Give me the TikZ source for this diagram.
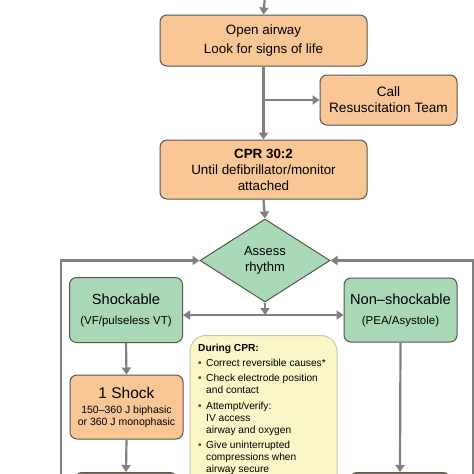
\documentclass[tikz,border=0pt]{standalone}
\usepackage{fontspec}
\setmainfont{Liberation Sans}
\usetikzlibrary{shapes.geometric,arrows.meta}
\definecolor{orfill}{HTML}{F9C795}
\definecolor{grfill}{HTML}{A8D8B6}
\definecolor{yefill}{HTML}{FAF6C8}
\definecolor{yeedge}{HTML}{C9C7A0}
\definecolor{brfill}{HTML}{8C7358}
\definecolor{edge}{HTML}{5A5550}
\definecolor{conn}{HTML}{808080}
\definecolor{bul}{HTML}{8B2A1A}
\newcommand{\bu}{\makebox[8pt][l]{\textcolor{bul}{\textbullet}}}
\begin{document}
\begin{tikzpicture}[x=1pt,y=-1pt,
  box/.style={draw=edge,line width=1pt,rounded corners=7pt,align=center,inner sep=0pt},
  orbox/.style={box,fill=orfill},
  grbox/.style={box,fill=grfill},
  brbox/.style={box,fill=brfill},
  arr/.style={draw=conn,line width=2.2pt,-{Triangle[width=9pt,length=7pt]}},
  arrb/.style={draw=conn,line width=2.2pt,{Triangle[width=9pt,length=7pt]}-{Triangle[width=9pt,length=7pt]}}
]
\useasboundingbox (0,0) rectangle (474,474);
\clip (0,0) rectangle (474,474);
\fill[white] (0,0) rectangle (474,474);

% boxes
\node[orbox,minimum width=207pt,minimum height=51pt,font=\fontsize{13.4}{19}\selectfont] (airway) at (263.5,40.5)
  {Open airway\\Look for signs of life};
\node[orbox,minimum width=137pt,minimum height=50pt,font=\fontsize{13.6}{16}\selectfont] (call) at (388.5,100)
  {Call\\Resuscitation Team};
\node[orbox,minimum width=207pt,minimum height=59pt,font=\fontsize{13.4}{16}\selectfont] (cpr) at (263.5,169.5)
  {\textbf{CPR 30:2}\\Until defibrillator/monitor\\attached};
\node[draw=edge,line width=1pt,fill=grfill,diamond,minimum width=130pt,minimum height=83pt,inner sep=0pt,align=center,font=\fontsize{13}{15.5}\selectfont] (assess) at (265,260.5)
  {Assess\\rhythm};
\node[grbox,minimum width=113pt,minimum height=65pt,font=\fontsize{14.6}{17}\selectfont] (shock) at (126,310)
  {Shockable\\[3pt]\fontsize{11.5}{13}\selectfont (VF/pulseless VT)};
\node[grbox,minimum width=113pt,minimum height=64pt,font=\fontsize{14.6}{17}\selectfont] (nonshock) at (400.5,310)
  {Non–shockable\\[3pt]\fontsize{11.5}{13}\selectfont (PEA/Asystole)};
\node[orbox,minimum width=113pt,minimum height=64pt,font=\fontsize{10.5}{12}\selectfont] (oneshock) at (126.5,407)
  {\fontsize{15.5}{18}\selectfont 1 Shock\\[3pt]150–360 J biphasic\\or 360 J monophasic};
\node[box,draw=yeedge,fill=yefill,rounded corners=16pt,minimum width=147pt,minimum height=170pt,anchor=north] (during) at (263.5,335) {};
\node[anchor=north west,inner sep=0pt,align=left,font=\fontsize{10.2}{12}\selectfont] (duringtext) at (198,344)
  {\textbf{During CPR:}\\[2.5pt]
   \bu Correct reversible causes*\\[3.5pt]
   \bu Check electrode position\\\hspace*{8pt}and contact\\[3.5pt]
   \bu Attempt/verify:\\\hspace*{8pt}IV access\\\hspace*{8pt}airway and oxygen\\[3.5pt]
   \bu Give uninterrupted\\\hspace*{8pt}compressions when\\\hspace*{8pt}airway secure};
\node[brbox,minimum width=102pt,minimum height=40pt,anchor=north] (bl) at (126,472) {};
\node[brbox,minimum width=100pt,minimum height=40pt,anchor=north] (br) at (400,472) {};

% connector helper coordinates
\coordinate (top) at (265,-5);
\coordinate (branch) at (265,100);
\coordinate (hmid) at (265,315);
\coordinate (lb) at (61,490);
\coordinate (rb) at (473,490);

% connectors
\draw[arr] (top) -- (airway.north);
\draw[arr] (airway.south) -- (cpr.north);
\draw[arr] (branch) -- (call.west |- branch);
\draw[arr] (cpr.south) -- (assess.north);
\draw[arr] (assess.south) -- (hmid);
\draw[arrb] (shock.east |- hmid) -- (nonshock.west |- hmid);
\draw[arr] (shock.south) -- (oneshock.north);
\draw[arr] (oneshock.south) -- (bl.north);
\draw[arr] (nonshock.south) -- (br.north);
\draw[arr] (lb) |- (assess.west);
\draw[arr] (rb) |- (assess.east);
\end{tikzpicture}
\end{document}
